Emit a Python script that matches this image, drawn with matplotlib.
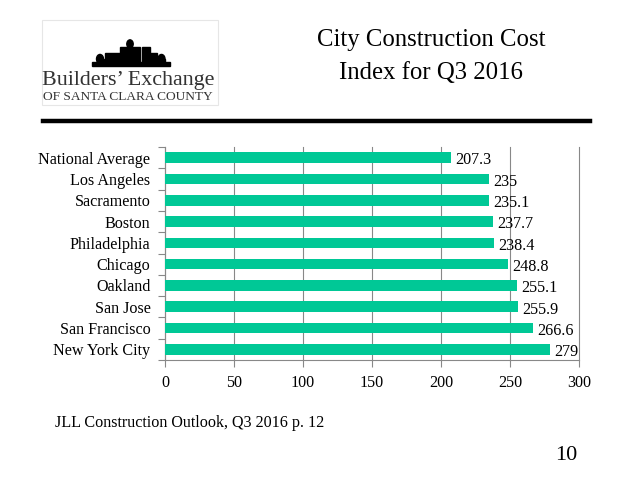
import matplotlib.pyplot as plt
from matplotlib.patches import Rectangle, Ellipse

plt.rcParams['font.family'] = ['Liberation Serif', 'DejaVu Serif']

# ---------------- DATA ----------------
cities = ["National Average", "Los Angeles", "Sacramento", "Boston", "Philadelphia",
          "Chicago", "Oakland", "San Jose", "San Francisco", "New York City"]
index_values = [207.3, 235, 235.1, 237.7, 238.4, 248.8, 255.1, 255.9, 266.6, 279]
value_labels = ["207.3", "235", "235.1", "237.7", "238.4",
                "248.8", "255.1", "255.9", "266.6", "279"]
x_ticks = [0, 50, 100, 150, 200, 250, 300]

W, H = 638, 479
fig = plt.figure(figsize=(W / 100, H / 100), dpi=100)

def px(x, y):
    return x / W, 1 - y / H

# ---------------- LOGO ----------------
fig.patches.append(Rectangle(px(42, 105), 176 / W, 85 / H, transform=fig.transFigure,
                             fill=False, ec="#e6e6e6", lw=0.8))
blocks = [(92, 62, 78, 3.5), (105, 53, 15, 9), (120, 47, 20, 15),
          (142, 47, 8, 15), (150, 53, 7, 9)]
for bx, by, bw, bh in blocks:
    fig.patches.append(Rectangle(px(bx, by + bh), bw / W, bh / H,
                                 transform=fig.transFigure, color="black"))
for cx, cy, r in [(100, 59, 3.5), (161.5, 59, 3.5), (130, 44, 3.2)]:
    fig.patches.append(Ellipse(px(cx, cy), 2 * r / W, 2 * r / H * 1.3,
                               transform=fig.transFigure, color="black"))
fig.patches.append(Rectangle(px(96.5, 62), 7 / W, 3 / H, transform=fig.transFigure, color="black"))
fig.patches.append(Rectangle(px(158, 62), 7 / W, 3 / H, transform=fig.transFigure, color="black"))
fig.text(*px(42, 80), "Builders\u2019 Exchange", fontsize=15.8, color="#333333",
         ha="left", va="center")
fig.text(*px(43, 96.5), "OF SANTA CLARA COUNTY", fontsize=9.6, color="#333333",
         ha="left", va="center")

# ---------------- TITLE ----------------
fig.text(*px(431, 40), "City Construction Cost", fontsize=17.8, ha="center", va="center")
fig.text(*px(431, 73), "Index for Q3 2016", fontsize=17.8, ha="center", va="center")
fig.add_artist(plt.Line2D([43 / W, 590 / W], [1 - 121 / H, 1 - 121 / H],
                          transform=fig.transFigure, color="black", lw=3.2))

# ---------------- CHART ----------------
ax = fig.add_axes([165 / W, 1 - 360 / H, 414 / W, 213 / H])
pos = list(range(len(cities)))
ax.barh(pos, index_values, height=0.5, color="#00c896", zorder=3)
for p, v, lab in zip(pos, index_values, value_labels):
    ax.annotate(lab, (v, p), xytext=(3, -2), textcoords="offset points",
                ha="left", va="center", fontsize=11.6, zorder=4)

ax.set_xlim(0, 300)
ax.set_ylim(len(cities) - 0.5, -0.5)
ax.set_xticks(x_ticks)
ax.set_yticks(pos)
ax.set_yticklabels(cities, fontsize=11.6)
ax.set_yticks([p - 0.5 for p in pos] + [len(cities) - 0.5], minor=True)
ax.tick_params(axis="y", which="major", length=0, pad=10.5)
ax.tick_params(axis="y", which="minor", length=5, color="#888888", width=0.8)
ax.tick_params(axis="x", length=5, color="#888888", width=0.8, labelsize=11.6, pad=6)
ax.grid(axis="x", color="#888888", lw=0.8, zorder=0)
for gl in ax.get_xgridlines():
    gl.set_clip_on(False)
for s in ["top", "right"]:
    ax.spines[s].set_visible(False)
for s in ["left", "bottom"]:
    ax.spines[s].set_color("#888888")
    ax.spines[s].set_linewidth(0.8)

# ---------------- FOOTER ----------------
fig.text(*px(55, 423), "JLL Construction Outlook, Q3 2016 p. 12", fontsize=11.6,
         ha="left", va="center")
fig.text(*px(566, 455), "10", fontsize=16, ha="center", va="center")

fig.savefig("out.png", dpi=100)
